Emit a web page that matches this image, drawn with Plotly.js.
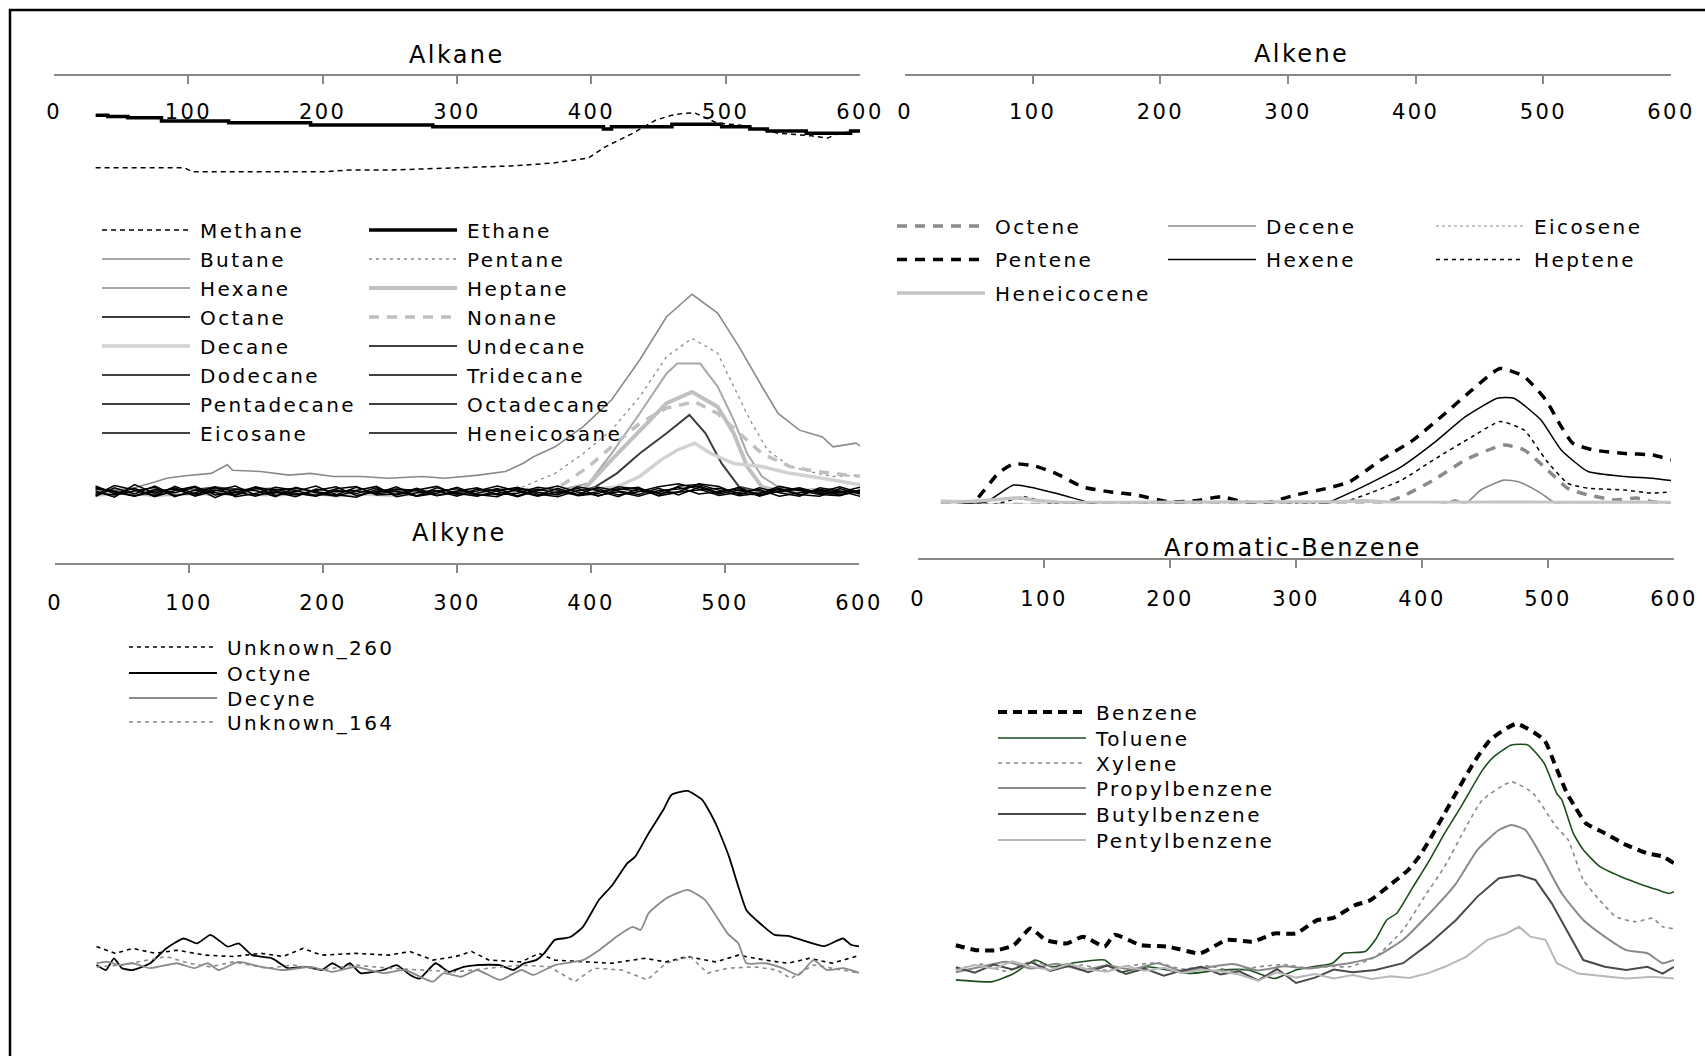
<!DOCTYPE html>
<html>
<head>
<meta charset="utf-8">
<script src="https://cdn.plot.ly/plotly-3.0.1.min.js"></script>
<style>
  html, body { margin: 0; padding: 0; background: #fff; }
  #chart { width: 1705px; height: 1056px; }
  svg text { letter-spacing: 2.4px; }
</style>
</head>
<body>
<div id="chart"></div>
<script>
// ---------- data ----------
const panelTitles = ['Alkane', 'Alkene', 'Alkyne', 'Aromatic-Benzene'];
const tickValues = [0, 100, 200, 300, 400, 500, 600];

// Alkane
const alkaneNames = ['Methane', 'Ethane', 'Butane', 'Pentane', 'Hexane', 'Heptane', 'Octane', 'Nonane',
  'Decane', 'Undecane', 'Dodecane', 'Tridecane', 'Pentadecane', 'Octadecane', 'Eicosane', 'Heneicosane'];
const methaneX = [31,60,90,97,103,150,200,220,250,300,340,373,398,410,431,448,460,469,477,494,510,539,564,576,584,601];
const methaneY = [79.6,79.6,79.6,79.6,78.7,78.7,78.7,79.1,79.1,79.6,80.0,80.7,81.8,84.2,87.3,90.2,91.3,91.7,91.8,89.5,89.1,87.3,86.7,86.2,87.3,87.8];
const ethaneX = [31,40,55,80,130,191,282,400,409,415,456,460,481,497,518,531,555,560,588,593,600];
const ethaneY = [91.3,91.0,90.7,90.0,89.6,89.1,88.7,88.7,88.2,88.7,88.7,89.3,89.3,88.7,88.2,87.8,87.8,87.3,87.3,87.8,87.8];
const butaneX = [31,45,60,75,84,96,117,129,133,154,175,191,208,229,249,274,291,316,336,349,357,373,394,415,436,456,475,494,510,527,539,555,572,580,597,601];
const butaneY = [7.5,8.0,8.5,9.8,10.6,11.1,11.7,13.6,12.4,12.1,11.3,11.7,11.0,11.0,10.6,11.0,10.6,11.3,12.1,13.9,15.4,17.6,22.1,28.0,36.9,46.5,51.5,47.3,39.8,31.0,25.0,21.3,19.8,17.6,18.4,17.6];
const pentaneX = [31,75,120,165,210,255,300,330,349,373,394,415,436,456,475,494,506,518,531,548,568,580,601];
const pentaneY = [7.2,8.0,6.8,7.6,7.0,7.9,7.3,7.8,8.7,11.7,16.1,21.3,28.7,37.6,41.7,38.4,31.0,23.6,16.9,13.2,11.7,11.0,11.3];
const hexaneX = [31,75,120,165,210,255,300,345,375,398,415,436,456,464,481,494,506,516,527,539,560,580,600];
const hexaneY = [6.8,7.6,8.2,6.9,7.7,7.1,8.0,7.2,7.9,9.5,16.1,25.0,33.9,36.1,36.1,31.0,23.6,16.1,11.0,8.7,7.6,8.2,7.3];
const heptaneX = [31,75,120,165,210,255,300,345,375,394,415,436,456,475,494,506,516,527,545,565,585,600];
const heptaneY = [7.9,6.9,7.5,8.3,6.8,7.6,7.2,8.1,7.4,8.0,14.7,21.3,27.3,29.8,26.5,20.6,13.2,8.7,7.4,8.0,7.2,7.7];
const octaneX = [31,75,120,165,210,255,300,345,385,403,419,436,456,473,485,497,510,530,555,580,600];
const octaneY = [8.2,7.0,8.6,7.3,6.9,8.1,7.5,8.3,7.2,8.7,11.7,16.1,20.6,24.7,20.6,13.9,8.7,7.4,8.1,7.0,7.8];
const nonaneX = [31,75,120,165,210,255,300,345,373,398,415,436,456,477,494,510,527,548,568,601];
const nonaneY = [7.0,8.2,7.4,6.9,8.0,7.3,7.8,7.1,8.0,13.2,17.6,22.8,26.2,27.6,25.0,20.6,16.1,13.2,12.1,11.0];
const decaneX = [31,75,120,165,210,255,300,345,390,419,436,452,464,477,489,506,527,548,572,601];
const decaneY = [6.9,7.8,7.0,8.0,7.4,6.8,7.9,7.2,7.7,8.7,11.0,14.7,16.9,18.4,16.1,13.9,13.2,11.7,10.6,9.1];
// heavier alkanes stay near the baseline, sampled on a common grid
const alkaneGridX = [31,45,60,75,90,105,120,135,150,165,180,195,210,225,240,255,270,285,300,315,330,345,360,375,390,405,420,435,450,465,480,495,510,525,540,555,570,585,600];
const undecaneY = [8.9,7.2,8.4,6.5,7.9,8.8,6.9,7.5,8.6,6.8,7.7,8.9,7.0,6.4,8.1,7.6,6.7,8.5,7.3,6.6,7.8,8.6,7.1,6.5,7.9,8.3,6.9,7.6,8.7,9.4,8.2,6.8,7.5,8.1,6.6,7.4,8.0,6.9,7.7];
const dodecaneY = [6.6,8.5,7.1,8.9,6.8,7.4,8.7,6.5,7.2,8.6,7.9,6.7,8.3,8.8,6.9,7.1,8.4,6.8,7.8,8.5,6.9,7.3,8.6,8.0,6.7,7.2,8.7,8.2,6.8,8.9,9.2,7.9,6.7,7.3,8.4,7.0,6.6,8.3,7.1];
const tridecaneY = [7.8,6.4,9.2,7.3,8.5,6.6,7.8,8.9,6.9,7.5,6.5,8.2,7.6,7.9,8.8,6.5,7.4,7.9,6.6,8.2,7.7,6.5,7.9,8.9,7.5,6.8,7.6,6.6,7.9,8.2,8.9,7.4,8.6,6.6,7.8,8.5,7.3,7.5,8.6];
const pentadecaneY = [8.3,7.7,6.7,8.1,7.4,8.6,6.3,8.2,7.9,6.5,8.6,7.4,6.6,7.8,7.3,8.7,6.6,7.3,8.6,7.0,6.5,8.4,7.5,6.9,8.7,7.9,6.5,8.3,7.2,7.6,9.4,8.8,6.9,8.5,7.4,6.6,8.5,7.8,6.6];
const octadecaneY = [6.9,9.0,8.0,6.7,8.8,7.1,8.0,7.0,8.7,7.7,6.9,7.9,8.7,6.8,7.6,8.2,7.9,6.7,7.5,7.8,8.9,7.7,6.6,7.6,7.0,8.6,7.8,7.0,8.4,6.9,8.6,7.1,8.0,7.2,8.8,7.9,7.0,6.7,8.0];
const eicosaneY = [7.4,6.9,7.8,8.6,6.5,8.0,7.4,6.8,8.3,8.1,7.3,6.6,8.0,7.2,8.5,6.9,8.0,8.8,6.9,7.3,8.3,6.7,8.2,7.3,8.4,6.6,8.1,8.6,6.7,7.5,8.0,8.4,7.3,6.9,7.7,8.2,7.5,8.7,7.4];
const heneicosaneY = [8.6,7.5,6.6,7.7,8.2,6.8,8.5,7.7,6.6,8.0,8.4,7.7,6.9,8.6,7.1,7.8,6.6,7.7,8.3,6.8,7.2,8.0,6.8,8.4,6.9,7.6,8.3,7.8,7.5,8.6,7.1,7.6,8.3,6.8,8.2,6.9,8.1,7.5,7.9];

// Alkene
const alkeneNames = ['Octene', 'Decene', 'Eicosene', 'Pentene', 'Hexene', 'Heptene', 'Heneicocene'];
const octeneX = [28,100,200,300,360,373,389,414,439,469,485,502,519,535,556,573,585,600];
const octeneY = [4.8,4.8,4.8,4.8,4.8,5.0,6.5,10.2,14.7,18.0,16.9,12.8,8.4,6.9,5.8,6.2,5.4,5.0];
const deceneX = [28,200,420,427,431,439,451,469,481,498,510,530,600];
const deceneY = [4.8,4.8,4.8,5.4,5.8,5.0,8.0,10.2,9.8,7.3,5.0,4.8,4.8];
const eicoseneX = [28,60,85,110,140,200,260,320,380,420,460,500,540,580,600];
const eicoseneY = [5.3,5.6,6.0,5.5,5.2,5.1,5.2,5.1,5.3,5.2,5.4,5.2,5.1,5.3,5.2];
const penteneX = [45,54,73,85,102,118,139,160,181,206,227,248,264,281,306,331,348,373,398,423,444,466,485,502,514,523,539,564,585,600];
const penteneY = [5.0,5.4,11.7,13.8,13.3,11.7,8.7,7.6,6.9,5.4,5.6,6.5,5.4,5.0,6.9,8.4,9.8,14.7,19.1,25.0,30.2,35.0,33.2,28.0,22.1,18.4,16.9,16.1,15.8,14.7];
const hexeneX = [40,64,85,102,123,152,200,260,327,348,369,389,414,439,464,477,498,514,535,564,585,600];
const hexeneY = [4.8,5.4,9.1,8.4,6.9,4.7,4.7,4.7,4.8,7.3,10.2,13.2,18.4,24.3,28.4,28.4,23.6,16.9,12.1,11.0,10.6,10.1];
const hepteneX = [50,73,93,114,135,200,280,344,364,389,414,444,466,485,502,519,535,564,585,600];
const hepteneY = [4.8,5.0,6.5,5.0,4.8,4.8,4.8,5.4,7.3,10.2,14.7,19.8,23.2,21.3,14.7,9.5,8.4,8.0,7.3,7.6];
const heneicoceneX = [28,45,60,75,90,100,120,160,220,260,300,340,360,380,420,470,520,560,600];
const heneicoceneY = [5.5,5.4,5.6,5.9,6.3,5.8,5.3,5.2,5.3,5.2,5.3,5.4,5.6,5.3,5.2,5.3,5.2,5.3,5.2];

// Alkyne
const alkyneNames = ['Unknown_260', 'Octyne', 'Decyne', 'Unknown_164'];
const unknown260X = [31,45,58,75,91,112,133,154,170,185,199,224,249,265,282,299,311,324,348,361,373,394,415,440,456,472,493,510,530,547,563,580,601];
const unknown260Y = [15.2,13.7,14.8,13.7,14.4,13.3,13.0,13.7,13.0,14.8,13.3,13.7,13.3,14.1,12.2,13.0,14.1,12.2,11.8,13.7,12.2,11.8,11.5,12.6,11.8,13.0,11.8,13.3,12.2,11.5,12.6,11.5,13.3];
const octyneX = [31,38,44,50,58,71,83,96,106,116,129,137,147,162,174,187,199,207,214,220,228,245,255,265,272,284,294,305,315,332,342,350,359,365,373,379,385,394,406,416,427,433,443,454,460,472,483,493,503,510,516,526,537,547,557,574,588,594,601];
const octyneY = [11.1,10.0,12.6,10.4,10.0,11.5,14.8,17.0,15.9,17.8,15.2,15.9,13.3,12.6,10.4,10.7,10.0,11.5,10.4,11.5,9.3,10.0,11.1,8.9,8.1,11.5,9.6,10.7,11.1,11.1,10.0,11.5,12.2,13.7,16.7,17.0,17.4,19.6,25.6,28.9,33.7,35.2,40.4,45.6,48.9,49.8,47.8,42.6,35.2,28.5,23.3,20.4,17.8,17.6,16.7,15.3,17.0,15.6,15.2];
const decyneX = [31,39,48,58,71,91,104,114,122,137,154,170,191,207,224,245,261,282,290,303,315,332,348,357,373,394,406,419,431,437,443,456,472,485,502,510,516,530,543,555,566,576,588,601];
const decyneY = [11.5,11.8,11.1,11.5,10.4,11.5,10.4,11.5,10.0,11.8,10.7,10.0,10.7,9.6,10.7,9.3,10.0,7.4,9.3,8.5,10.0,7.8,10.0,8.9,11.1,12.2,14.4,17.4,19.6,18.9,22.6,25.9,27.8,25.6,18.1,15.9,11.5,11.5,10.4,8.9,12.2,10.0,10.4,9.3];
const unknown164X = [31,50,69,83,100,116,133,158,178,199,224,249,274,299,324,348,369,388,402,423,442,456,474,487,502,522,539,549,566,580,601];
const unknown164Y = [10.7,11.1,12.2,13.0,11.5,10.7,11.8,10.4,11.1,10.0,11.1,10.4,10.0,9.6,10.4,11.1,10.7,7.4,10.4,10.0,7.8,11.5,13.0,9.3,10.4,10.7,10.0,8.1,11.1,10.4,9.3];

// Aromatic-Benzene
const aromaticNames = ['Benzene', 'Toluene', 'Xylene', 'Propylbenzene', 'Butylbenzene', 'Pentylbenzene'];
const benzeneX = [30,46,63,76,89,95,101,118,131,148,156,177,198,224,245,266,283,300,317,329,347,359,376,389,398,406,418,427,441,454,475,497,505,515,522,530,545,562,579,591,600];
const benzeneY = [14.4,13.3,13.3,14.4,18.1,17.0,15.6,14.8,16.3,14.1,16.7,14.4,14.1,12.6,15.6,15.2,17.0,17.0,20.0,20.4,23.3,24.4,28.1,31.1,34.2,37.8,43.7,48.2,54.9,60.0,63.6,60.0,54.9,48.2,44.9,41.5,39.3,36.7,34.8,34.1,32.6];
const tolueneX = [30,59,76,93,106,122,148,160,182,215,240,262,283,300,313,329,338,355,363,372,380,393,406,418,431,448,457,471,484,497,507,511,520,528,541,558,575,587,596,600];
const tolueneY = [6.7,6.3,8.1,11.1,9.6,10.4,11.1,8.5,9.6,8.1,8.9,8.9,7.0,8.9,9.6,10.4,12.6,13.0,15.6,20.0,21.5,27.4,33.3,39.3,45.2,53.3,56.3,58.9,58.9,54.8,48.1,46.7,39.3,35.6,31.9,29.6,27.8,26.7,25.9,26.3];
const xyleneX = [30,50,70,90,110,130,150,170,190,210,230,250,270,290,310,330,342,363,385,402,418,435,448,471,488,506,516,528,541,554,570,583,591,600];
const xyleneY = [9.0,10.2,8.6,10.8,9.4,10.0,8.8,9.9,10.5,9.1,9.8,8.7,9.6,10.1,9.3,9.7,9.6,11.8,17.8,25.2,31.9,40.7,46.7,50.7,48.2,40.9,37.8,28.9,24.4,20.7,19.6,20.4,18.5,18.1];
const propylbenzeneX = [30,50,70,90,110,130,150,170,190,210,230,250,270,290,310,321,342,363,385,406,427,444,461,471,482,495,511,528,545,562,579,591,600];
const propylbenzeneY = [8.4,9.6,10.7,9.2,10.3,8.9,9.9,9.0,10.4,8.6,9.5,10.2,8.8,9.7,9.2,9.6,10.4,11.8,15.6,21.5,28.1,35.6,40.0,41.1,40.0,34.1,25.9,20.0,16.3,13.3,12.6,10.4,11.1];
const butylbenzeneX = [30,45,60,75,90,105,120,135,150,165,180,195,210,225,240,255,270,285,300,315,330,345,363,385,406,427,444,461,477,490,503,515,528,545,562,579,591,600];
const butylbenzeneY = [9.5,8.3,10.1,9.0,10.6,8.7,9.8,8.4,9.9,8.0,9.2,7.6,8.8,9.6,7.9,8.6,6.6,9.1,6.0,7.2,9.0,8.4,8.9,10.4,14.8,20.0,25.2,29.3,30.0,28.9,23.7,17.8,11.1,9.6,8.9,9.6,8.1,9.6];
const pentylbenzeneX = [30,45,60,75,90,105,120,135,150,165,180,195,210,225,240,255,270,285,300,315,330,345,360,375,390,405,418,435,452,467,477,486,498,507,524,545,562,583,600];
const pentylbenzeneY = [8.8,10.0,9.2,10.8,9.6,8.9,10.2,9.0,8.5,9.8,8.7,9.4,8.2,9.0,8.6,7.9,6.5,8.4,7.2,8.0,7.0,7.8,6.9,7.5,7.1,8.2,9.6,11.8,15.6,17.0,18.5,16.3,15.6,10.4,8.1,7.4,7.0,7.4,7.0];

const seriesData = {
  Methane: [methaneX, methaneY], Ethane: [ethaneX, ethaneY], Butane: [butaneX, butaneY],
  Pentane: [pentaneX, pentaneY], Hexane: [hexaneX, hexaneY], Heptane: [heptaneX, heptaneY],
  Octane: [octaneX, octaneY], Nonane: [nonaneX, nonaneY], Decane: [decaneX, decaneY],
  Undecane: [alkaneGridX, undecaneY], Dodecane: [alkaneGridX, dodecaneY], Tridecane: [alkaneGridX, tridecaneY],
  Pentadecane: [alkaneGridX, pentadecaneY], Octadecane: [alkaneGridX, octadecaneY],
  Eicosane: [alkaneGridX, eicosaneY], Heneicosane: [alkaneGridX, heneicosaneY],
  Octene: [octeneX, octeneY], Decene: [deceneX, deceneY], Eicosene: [eicoseneX, eicoseneY],
  Pentene: [penteneX, penteneY], Hexene: [hexeneX, hexeneY], Heptene: [hepteneX, hepteneY],
  Heneicocene: [heneicoceneX, heneicoceneY],
  Unknown_260: [unknown260X, unknown260Y], Octyne: [octyneX, octyneY],
  Decyne: [decyneX, decyneY], Unknown_164: [unknown164X, unknown164Y],
  Benzene: [benzeneX, benzeneY], Toluene: [tolueneX, tolueneY], Xylene: [xyleneX, xyleneY],
  Propylbenzene: [propylbenzeneX, propylbenzeneY], Butylbenzene: [butylbenzeneX, butylbenzeneY],
  Pentylbenzene: [pentylbenzeneX, pentylbenzeneY]
};

// ---------- styles ----------
const GRAY = '#8a8a8a';
const lineStyles = {
  Methane: {color: '#000', width: 1.5, dash: '5px,4px'},
  Ethane: {color: '#000', width: 3.5, shape: 'hv'},
  Butane: {color: GRAY, width: 1.6},
  Pentane: {color: GRAY, width: 1.3, dash: '3px,4px'},
  Hexane: {color: '#a8a8a8', width: 2},
  Heptane: {color: '#c0c0c0', width: 4},
  Octane: {color: '#3c3c3c', width: 2},
  Nonane: {color: '#c0c0c0', width: 3.5, dash: '10px,8px'},
  Decane: {color: '#d2d2d2', width: 3.5},
  Undecane: {color: '#000', width: 1.5}, Dodecane: {color: '#000', width: 1.5},
  Tridecane: {color: '#000', width: 1.5}, Pentadecane: {color: '#000', width: 1.5},
  Octadecane: {color: '#000', width: 1.5}, Eicosane: {color: '#000', width: 1.5},
  Heneicosane: {color: '#000', width: 1.5},
  Octene: {color: GRAY, width: 3.5, dash: '10px,8px', shape: 'spline'},
  Decene: {color: GRAY, width: 1.6, shape: 'spline'},
  Eicosene: {color: GRAY, width: 1, dash: '3px,3px'},
  Pentene: {color: '#000', width: 3.5, dash: '10px,8px', shape: 'spline'},
  Hexene: {color: '#000', width: 1.5, shape: 'spline'},
  Heptene: {color: '#000', width: 1.5, dash: '4px,4px', shape: 'spline'},
  Heneicocene: {color: '#c4c4c4', width: 3.5},
  Unknown_260: {color: '#000', width: 1.6, dash: '4px,4px'},
  Octyne: {color: '#000', width: 1.8, shape: 'spline'},
  Decyne: {color: GRAY, width: 1.8, shape: 'spline'},
  Unknown_164: {color: GRAY, width: 1.6, dash: '4px,4px'},
  Benzene: {color: '#000', width: 4, dash: '9px,6px', shape: 'spline'},
  Toluene: {color: '#1d4d1d', width: 1.6, shape: 'spline'},
  Xylene: {color: GRAY, width: 1.6, dash: '4px,4px', shape: 'spline'},
  Propylbenzene: {color: GRAY, width: 2, shape: 'spline'},
  Butylbenzene: {color: '#4a4a4a', width: 2},
  Pentylbenzene: {color: '#b8b8b8', width: 2}
};

// page geometry (pixels)
const W = 1705, H = 1056;
const px = v => v / W;
const py = v => 1 - v / H;
const FONT = 'DejaVu Sans';
const AXIS_GRAY = '#898989';
const LEGEND_LINE = 88;

const panels = [
  {names: alkaneNames, xa: 'x', ya: 'y', x0: 54, x1: 860, top: 76, bottom: 501.25, ymin: 5.5,
   tx: 457, ty: 55, standoff: 22, legCols: [102, 369], legRows: [230, 259, 288, 317, 346, 375, 404, 433]},
  {names: alkeneNames, xa: 'x2', ya: 'y2', x0: 905, x1: 1671, top: 76, bottom: 503.5, ymin: 5,
   tx: 1301, ty: 54, standoff: 22, legCols: [897, 1168, 1436], legRows: [226, 259.5, 293]},
  {names: alkyneNames, xa: 'x3', ya: 'y3', x0: 55, x1: 859, top: 565, bottom: 1015, ymin: 0,
   tx: 460, ty: 533, standoff: 24, legCols: [129], legRows: [647, 673, 698, 722]},
  {names: aromaticNames, xa: 'x4', ya: 'y4', x0: 918, x1: 1674, top: 560, bottom: 1010, ymin: 0,
   tx: 1293, ty: 547.5, standoff: 25, legCols: [998], legRows: [712, 738, 763, 788, 814, 840]}
];

const layout = {
  width: W, height: H,
  margin: {l: 0, r: 0, t: 0, b: 0},
  paper_bgcolor: '#fff', plot_bgcolor: 'rgba(0,0,0,0)',
  font: {family: FONT, size: 20, color: '#000'},
  showlegend: true,
  annotations: [],
  shapes: [{
    type: 'rect', xref: 'paper', yref: 'paper',
    x0: px(10), x1: px(1740), y0: py(1090), y1: py(10),
    line: {color: '#000', width: 2.5}
  }]
};

const traces = [];
let legendIndex = 0;

panels.forEach((p, pi) => {
  const xKey = 'xaxis' + p.xa.slice(1);
  const yKey = 'yaxis' + p.ya.slice(1);
  layout[xKey] = {
    domain: [px(p.x0), px(p.x1)], range: [0, 600], anchor: p.ya,
    side: 'top', showline: true, linecolor: AXIS_GRAY, linewidth: 2,
    ticks: 'inside', ticklen: 8, tickwidth: 2, tickcolor: AXIS_GRAY,
    tickmode: 'array', tickvals: tickValues, ticktext: tickValues.map(String),
    ticklabelposition: 'inside', ticklabelstandoff: p.standoff, ticklabeloverflow: 'allow',
    tickfont: {family: FONT, size: 21, color: '#000'},
    showgrid: false, zeroline: false, fixedrange: true
  };
  layout[yKey] = {
    domain: [py(p.bottom), py(p.top)], range: [p.ymin, 100], anchor: p.xa,
    visible: false, showgrid: false, zeroline: false, fixedrange: true
  };
  layout.annotations.push({
    text: panelTitles[pi], xref: 'paper', yref: 'paper',
    x: px(p.tx), y: py(p.ty), xanchor: 'center', yanchor: 'middle',
    showarrow: false, font: {family: FONT, size: 24, color: '#000'}
  });

  const nCols = p.legCols.length;
  p.names.forEach((name, i) => {
    legendIndex += 1;
    const lid = legendIndex === 1 ? 'legend' : 'legend' + legendIndex;
    const st = lineStyles[name];
    const [xs, ys] = seriesData[name];
    traces.push({
      type: 'scatter', mode: 'lines', name: name,
      x: xs, y: ys, xaxis: p.xa, yaxis: p.ya,
      line: {color: st.color, width: st.width, dash: st.dash || 'solid',
             shape: st.shape || 'linear', smoothing: 0.5},
      legend: lid, hoverinfo: 'skip', cliponaxis: true
    });
    const col = i % nCols, row = Math.floor(i / nCols);
    layout[lid] = {
      x: px(p.legCols[col] - 5), xanchor: 'left',
      y: py(p.legRows[row] - 19.5), yanchor: 'top',
      bgcolor: 'rgba(0,0,0,0)', borderwidth: 0,
      font: {family: FONT, size: 20, color: '#000'},
      itemwidth: LEGEND_LINE + 5, tracegroupgap: 0
    };
  });
});

const gd = document.getElementById('chart');
Plotly.newPlot(gd, traces, layout, {staticPlot: true, displayModeBar: false}).then(() => {
  // longer legend line samples
  gd.querySelectorAll('.legendlines path').forEach(p => p.setAttribute('d', 'M5,0h' + LEGEND_LINE));
});
</script>
</body>
</html>
